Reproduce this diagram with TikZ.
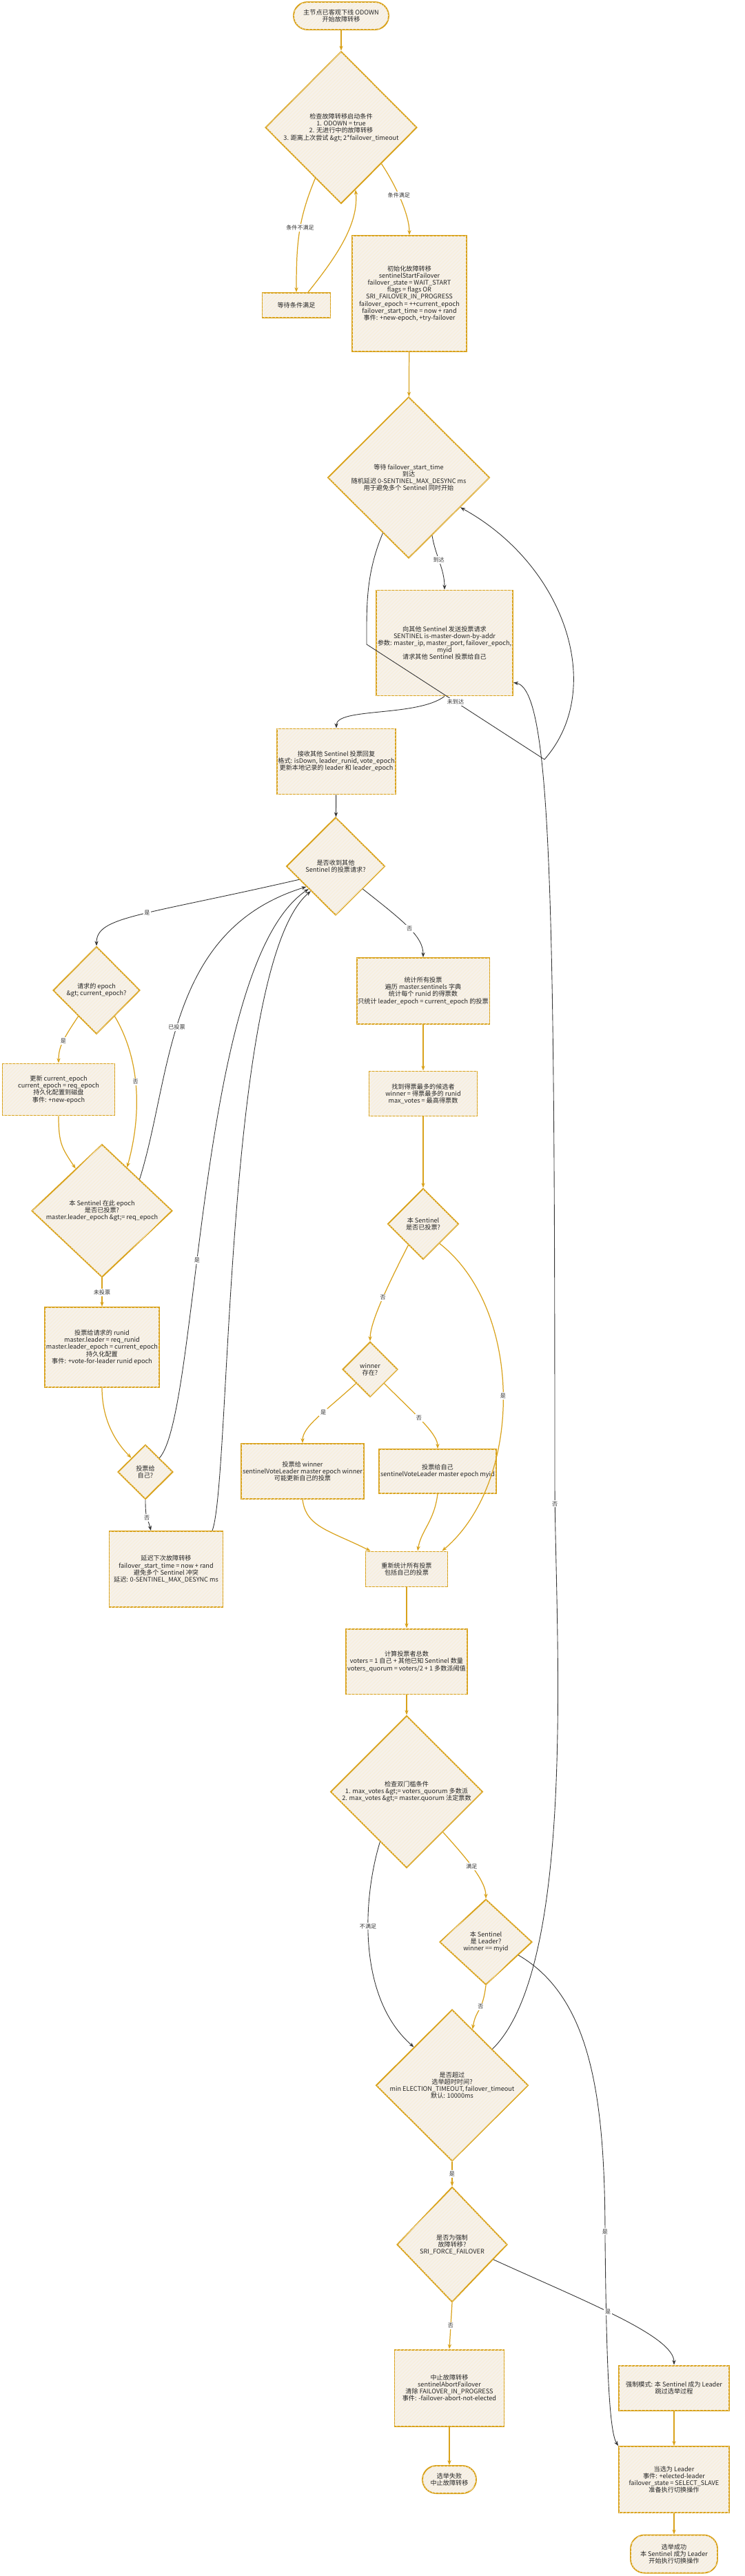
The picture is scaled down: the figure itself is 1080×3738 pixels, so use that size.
\documentclass[tikz,border=0pt]{standalone}
\usepackage{fontspec}
\setmainfont{Noto Sans CJK SC}
\usetikzlibrary{shapes.geometric,arrows.meta,patterns,calc}
\definecolor{gold}{HTML}{D9A21B}
\definecolor{cream}{HTML}{F6F1EA}
\tikzset{
  base/.style={draw=gold,line width=1.1pt,fill=cream,postaction={pattern=north east lines,pattern color=gold!18},align=center,inner sep=1pt,font=\fontsize{5.2}{5.8}\selectfont,text=black!85},
  box/.style={base,rectangle},
  term/.style={base,rectangle,rounded corners=0.4cm},
  dia/.style={base,diamond,inner sep=0pt},
  ge/.style={draw=gold,line width=0.7pt,-{Stealth[open,length=4pt,width=3pt]}},
  be/.style={draw=black!80,line width=0.5pt,-{Stealth[length=4pt,width=3pt]}},
  lb/.style={fill=white,inner sep=1pt,font=\fontsize{4.6}{5}\selectfont,text=black!80},
}
\begin{document}
\begin{tikzpicture}[x=0.02cm,y=-0.02cm]
\useasboundingbox (0,0) rectangle (1080,3738);
% nodes
\node[term,minimum width=2.76cm,minimum height=0.8cm] (start) at (495,23) {主节点已客观下线 ODOWN\\开始故障转移};
\node[dia,minimum width=4.4cm,minimum height=4.42cm] (d1) at (495,185) {检查故障转移启动条件\\1. ODOWN = true\\2. 无进行中的故障转移\\3. 距离上次尝试 \&gt; 2*failover\_timeout};
\node[box,minimum width=1.98cm,minimum height=0.72cm] (wait) at (430,443) {等待条件满足};
\node[box,minimum width=3.32cm,minimum height=3.36cm] (init) at (594,426) {初始化故障转移\\sentinelStartFailover\\failover\_state = WAIT\_START\\flags = flags OR\\SRI\_FAILOVER\_IN\_PROGRESS\\failover\_epoch = ++current\_epoch\\failover\_start\_time = now + rand\\事件: +new-epoch, +try-failover};
\node[dia,minimum width=4.7cm,minimum height=4.68cm] (d2) at (593,693) {等待 failover\_start\_time\\到达\\随机延迟 0-SENTINEL\_MAX\_DESYNC ms\\用于避免多个 Sentinel 同时开始};
\node[box,minimum width=3.3cm,minimum height=3.06cm] (vreq) at (645,933) {向其他 Sentinel 发送投票请求\\SENTINEL is-master-down-by-addr\\参数: master\_ip, master\_port, failover\_epoch,\\myid\\请求其他 Sentinel 投票给自己};
\node[box,minimum width=3.28cm,minimum height=1.9cm] (recv) at (488,1105) {接收其他 Sentinel 投票回复\\格式: isDown, leader\_runid, vote\_epoch\\更新本地记录的 leader 和 leader\_epoch};
\node[dia,minimum width=2.86cm,minimum height=2.84cm] (d3) at (487,1257) {是否收到其他\\Sentinel 的投票请求?};
\node[dia,minimum width=2.52cm,minimum height=2.54cm] (d4) at (140,1437) {请求的 epoch\\\&gt; current\_epoch?};
\node[box,minimum width=3.26cm,minimum height=1.5cm] (upd) at (85,1581) {更新 current\_epoch\\current\_epoch = req\_epoch\\持久化配置到磁盘\\事件: +new-epoch};
\node[dia,minimum width=4.08cm,minimum height=3.82cm] (d5) at (148,1757) {本 Sentinel 在此 epoch\\是否已投票?\\master.leader\_epoch \&gt;= req\_epoch};
\node[box,minimum width=3.3cm,minimum height=2.32cm] (vfr) at (148,1955) {投票给请求的 runid\\master.leader = req\_runid\\master.leader\_epoch = current\_epoch\\持久化配置\\事件: +vote-for-leader runid epoch};
\node[dia,minimum width=1.6cm,minimum height=1.58cm] (d6) at (211,2136) {投票给\\自己?};
\node[box,minimum width=3.3cm,minimum height=2.2cm] (delay) at (241,2277) {延迟下次故障转移\\failover\_start\_time = now + rand\\避免多个 Sentinel 冲突\\延迟: 0-SENTINEL\_MAX\_DESYNC ms};
\node[box,minimum width=3.3cm,minimum height=1.92cm] (tally) at (614,1438) {统计所有投票\\遍历 master.sentinels 字典\\统计每个 runid 的得票数\\只统计 leader\_epoch = current\_epoch 的投票};
\node[box,minimum width=3.14cm,minimum height=1.3cm] (wfind) at (614,1587) {找到得票最多的候选者\\winner = 得票最多的 runid\\max\_votes = 最高得票数};
\node[dia,minimum width=2.06cm,minimum height=2.06cm] (d7) at (614,1776) {本 Sentinel\\是否已投票?};
\node[dia,minimum width=1.6cm,minimum height=1.6cm] (d8) at (537,1987) {winner\\存在?};
\node[box,minimum width=3.28cm,minimum height=1.6cm] (vwin) at (439,2135) {投票给 winner\\sentinelVoteLeader master epoch winner\\可能更新自己的投票};
\node[box,minimum width=3.28cm,minimum height=1.28cm] (vself) at (635,2135) {投票给自己\\sentinelVoteLeader master epoch myid};
\node[box,minimum width=2.38cm,minimum height=1.02cm] (recount) at (590,2277) {重新统计所有投票\\包括自己的投票};
\node[box,minimum width=3.3cm,minimum height=1.9cm] (voters) at (590,2411) {计算投票者总数\\voters = 1 自己 + 其他已知 Sentinel 数量\\voters\_quorum = voters/2 + 1 多数派阈值};
\node[dia,minimum width=4.42cm,minimum height=4.42cm] (d9) at (590,2600) {检查双门槛条件\\1. max\_votes \&gt;= voters\_quorum 多数派\\2. max\_votes \&gt;= master.quorum 法定票数};
\node[dia,minimum width=2.68cm,minimum height=2.48cm] (d10) at (705,2818) {本 Sentinel\\是 Leader?\\winner == myid};
\node[dia,minimum width=4.42cm,minimum height=4.12cm] (d11) at (656,3026) {是否超过\\选举超时时间?\\min ELECTION\_TIMEOUT, failover\_timeout\\默认: 10000ms};
\node[dia,minimum width=3.2cm,minimum height=3.34cm] (d12) at (656,3257) {是否为强制\\故障转移?\\SRI\_FORCE\_FAILOVER};
\node[box,minimum width=3.18cm,minimum height=2.22cm] (abort) at (652,3465) {中止故障转移\\sentinelAbortFailover\\清除 FAILOVER\_IN\_PROGRESS\\事件: -failover-abort-not-elected};
\node[term,minimum width=1.56cm,minimum height=0.8cm] (fail) at (652,3598) {选举失败\\中止故障转移};
\node[box,minimum width=3.2cm,minimum height=1.3cm] (force) at (978,3465) {强制模式: 本 Sentinel 成为 Leader\\跳过选举过程};
\node[box,minimum width=3.2cm,minimum height=1.92cm] (leader) at (978,3598) {当选为 Leader\\事件: +elected-leader\\failover\_state = SELECT\_SLAVE\\准备执行切换操作};
\node[term,minimum width=2.52cm,minimum height=1.1cm] (succ) at (978,3706) {选举成功\\本 Sentinel 成为 Leader\\开始执行切换操作};
\coordinate (vreqin) at ($(vreq.south east)+(0,-20)$);
% edges
\draw[ge] (start) -- (d1);
\draw[ge] (d1.243) .. controls +(-25,60) and +(0,-70) .. (wait.north) node[lb,pos=0.45]{条件不满足};
\draw[ge] ($(wait.north)+(17,0)$) .. controls +(40,-50) and +(5,50) .. (d1.283);
\draw[ge] (d1.-42) .. controls +(20,30) and +(0,-30) .. (init.north) node[lb,pos=0.45]{条件满足};
\draw[ge] (init) -- (d2);
\draw[be] (d2.-68) .. controls +(5,30) and +(0,-30) .. (vreq.north) node[lb,pos=0.45]{到达};
\draw[be] (d2.245) .. controls +(-25,60) and (532,880) .. (532,935) -- (790,1102) node[lb,pos=0.5]{未到达} .. controls (880,1000) and (820,820) .. (d2.-30);
\draw[be] (vreq.south) .. controls +(-40,30) and +(0,-30) .. (recv.north);
\draw[be] (recv) -- (d3);
\draw[be] (d3.200) .. controls (200,1330) and (140,1330) .. (d4.north) node[lb,pos=0.45]{是};
\draw[be] (d3.-40) .. controls (590,1340) and (614,1360) .. (tally.north) node[lb,pos=0.5]{否};
\draw[ge] (d4.235) .. controls (90,1510) and (85,1520) .. (upd.north) node[lb,pos=0.45]{是};
\draw[ge] (d4.-55) .. controls (205,1540) and (205,1620) .. (d5.60) node[lb,pos=0.45]{否};
\draw[ge] (upd.south) .. controls +(0,40) and +(-20,-30) .. (d5.122);
\draw[be] (d5.40) .. controls (250,1560) and (240,1350) .. (d3.215) node[lb,pos=0.45]{已投票};
\draw[ge] (d5.south) -- (vfr.north) node[lb,midway]{未投票};
\draw[ge] (vfr.south) .. controls +(0,50) and +(-20,-20) .. (d6.135);
\draw[be] (d6.45) .. controls (290,2050) and (285,1400) .. (d3.220) node[lb,pos=0.4]{是};
\draw[be] (d6.south) .. controls +(0,30) and +(-5,-20) .. ($(delay.north)+(-22,0)$) node[lb,pos=0.5]{否};
\draw[be] ($(delay.north)+(67,0)$) .. controls (335,2150) and (325,1400) .. (d3.225);
\draw[ge] (tally) -- (wfind);
\draw[ge] (wfind) -- (d7);
\draw[ge] (d7.235) .. controls (560,1870) and (537,1920) .. (d8.north) node[lb,pos=0.45]{否};
\draw[ge] (d7.-50) .. controls (760,1900) and (760,2150) .. ($(recount.north east)+(-9,0)$) node[lb,pos=0.5]{是};
\draw[ge] (d8.225) .. controls (470,2050) and (439,2070) .. (vwin.north) node[lb,pos=0.4]{是};
\draw[ge] (d8.-45) .. controls (600,2050) and (635,2080) .. (vself.north) node[lb,pos=0.45]{否};
\draw[ge] (vwin.south) .. controls +(5,40) and +(-60,-30) .. ($(recount.north west)+(8,0)$);
\draw[ge] (vself.south) .. controls +(-5,40) and +(5,-30) .. ($(recount.north)+(16,0)$);
\draw[ge] (recount) -- (voters);
\draw[ge] (voters) -- (d9);
\draw[ge] (d9.-48) .. controls (680,2700) and (705,2730) .. (d10.north) node[lb,pos=0.45]{满足};
\draw[be] (d9.242) .. controls (525,2760) and (520,2900) .. (d11.135) node[lb,pos=0.4]{不满足};
\draw[ge] (d10.south) .. controls +(-5,40) and +(5,-30) .. (d11.70) node[lb,pos=0.4]{否};
\draw[be] (d10.-22) .. controls (860,2900) and (878,3050) .. (878,3250) node[lb,pos=0.98]{是} .. controls (880,3450) and (885,3530) .. (leader.north west);
\draw[be] (d11.42) .. controls (840,2850) and (805,2350) .. (805,2150) node[lb,pos=0.95]{否} .. controls (805,1300) and (800,1000) .. (vreqin);
\draw[ge] (d11.south) -- (d12.north) node[lb,midway]{是};
\draw[be] (d12.-20) .. controls (850,3340) and (978,3390) .. (force.north) node[lb,pos=0.45]{是};
\draw[ge] (d12.south) -- (abort.north) node[lb,midway]{否};
\draw[ge] (abort) -- (fail);
\draw[ge] (force) -- (leader);
\draw[ge] (leader) -- (succ);
\end{tikzpicture}
\end{document}
